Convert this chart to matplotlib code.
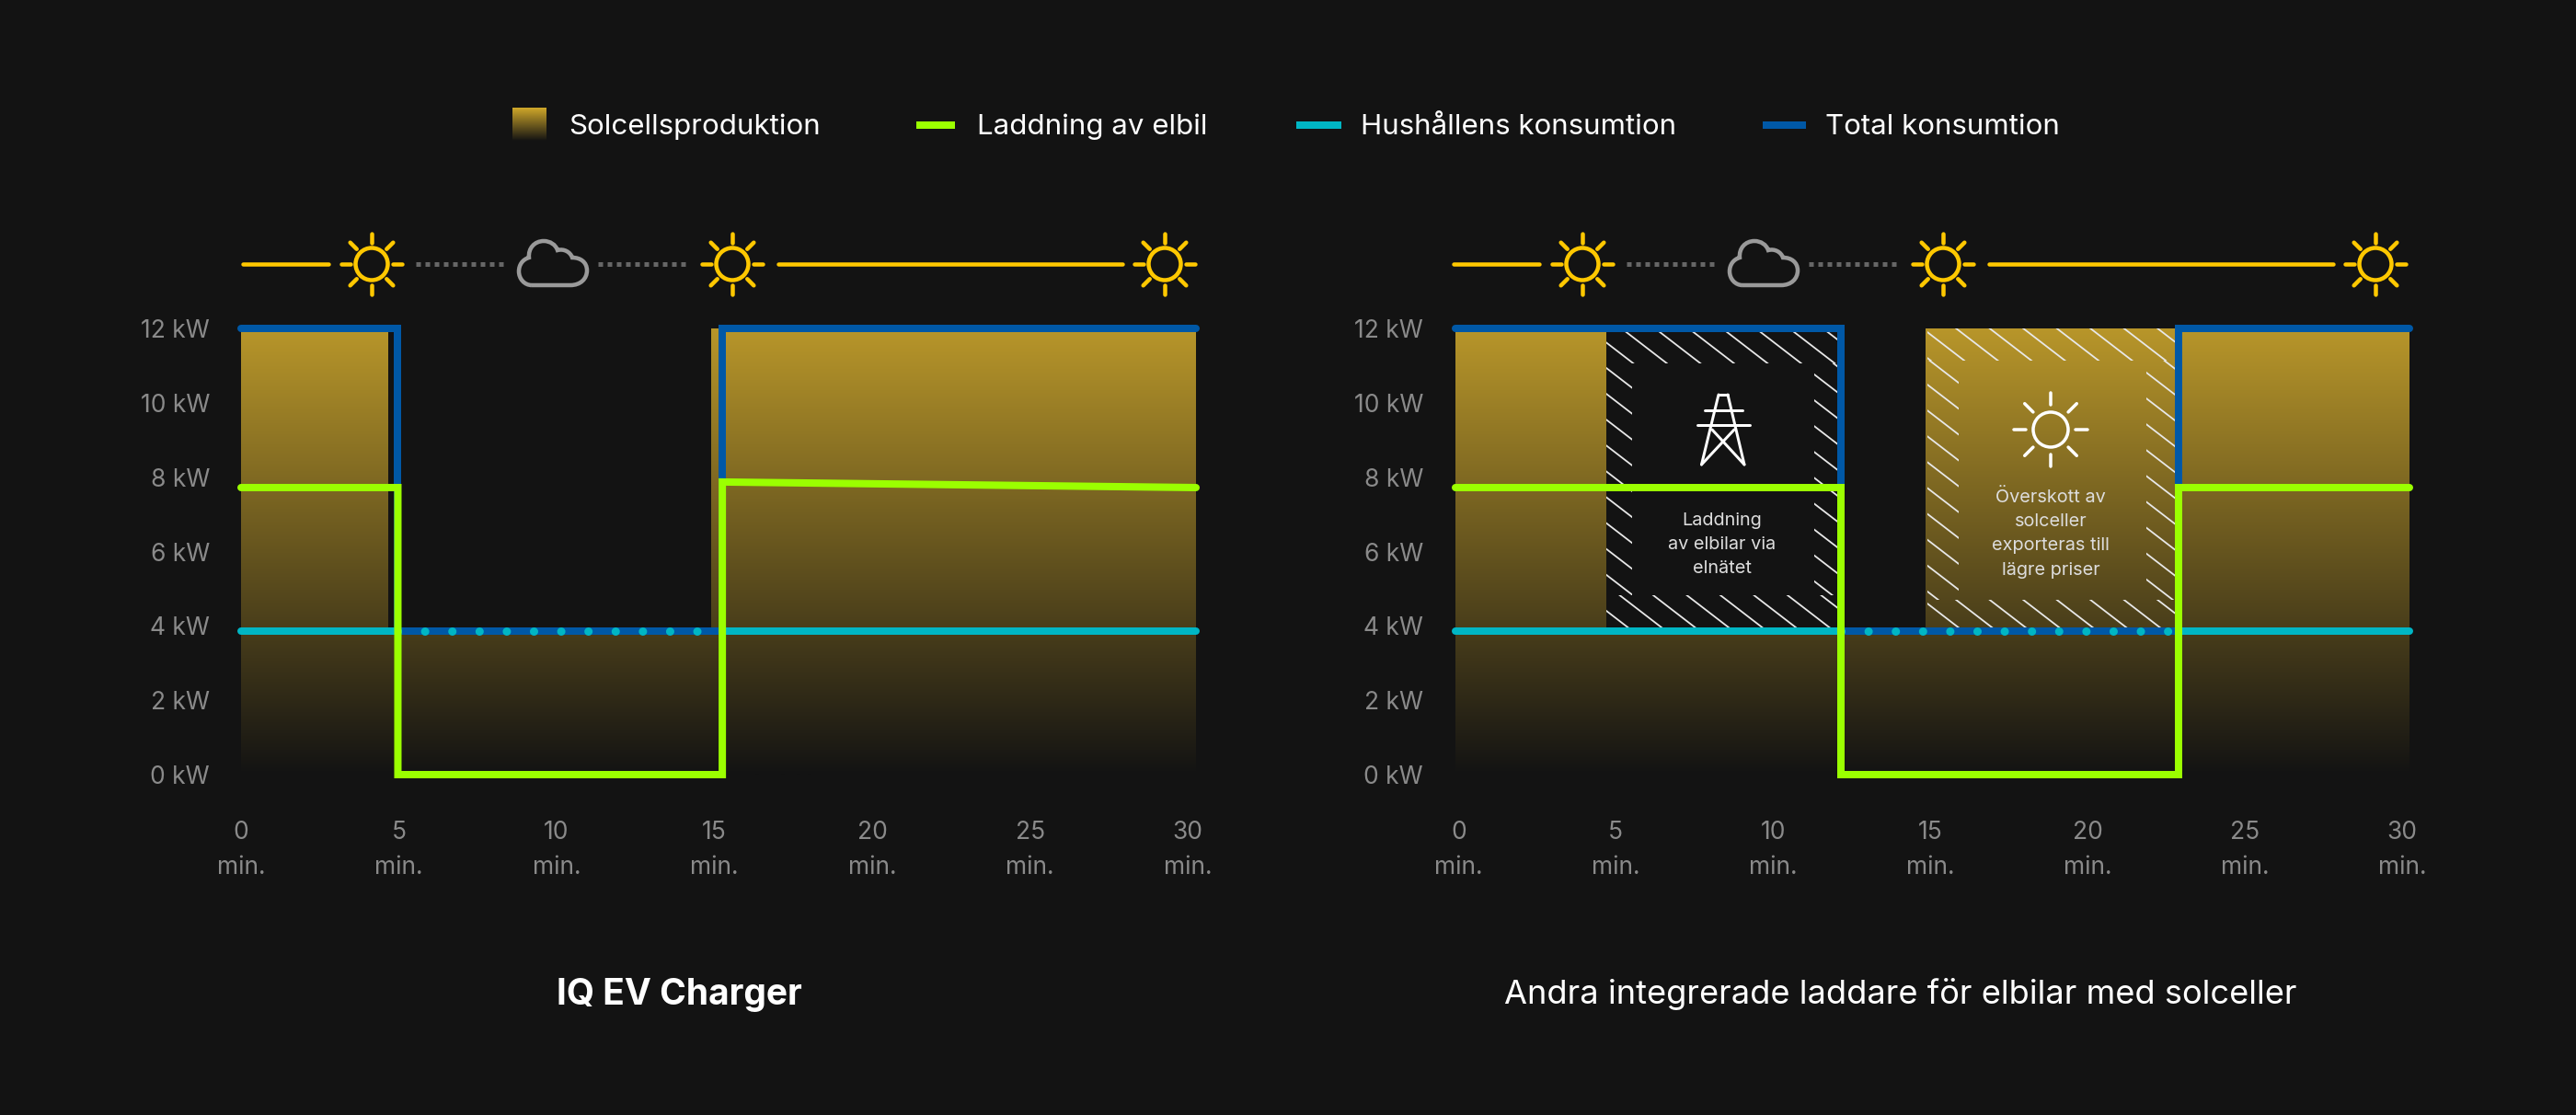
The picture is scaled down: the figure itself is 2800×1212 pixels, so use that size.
import numpy as np
import matplotlib
matplotlib.use("Agg")
import matplotlib.pyplot as plt
from matplotlib.path import Path
from matplotlib.patches import PathPatch, Rectangle, Circle
from matplotlib.colors import to_rgb

# chart data, minutes and kW
minute_ticks = [0, 5, 10, 15, 20, 25, 30]
kw_ticks = [0, 2, 4, 6, 8, 10, 12]

left_solar_x = [0, 4.66, 4.66, 14.9, 14.9, 30.26]
left_solar_y = [12, 12, 3.85, 3.85, 12, 12]
left_total_x = [0, 4.97, 4.97, 15.25, 15.25, 30.26]
left_total_y = [12, 12, 3.85, 3.85, 12, 12]
left_ev_x = [0, 4.97, 4.97, 15.25, 15.25, 30.26]
left_ev_y = [7.72, 7.72, 0, 0, 7.87, 7.72]
left_house_x = [0, 4.97, 15.25, 30.26]
left_house_y = [3.85, 3.85, 3.85, 3.85]

right_solar_x = [-0.1, 4.69, 4.69, 14.84, 14.84, 30.23]
right_solar_y = [12, 12, 3.85, 3.85, 12, 12]
right_total_x = [-0.1, 12.16, 12.16, 22.89, 22.89, 30.23]
right_total_y = [12, 12, 3.85, 3.85, 12, 12]
right_ev_x = [-0.1, 12.16, 12.16, 22.89, 22.89, 30.23]
right_ev_y = [7.72, 7.72, 0, 0, 7.72, 7.72]
right_house_x = [-0.1, 12.16, 22.89, 30.23]
right_house_y = [3.85, 3.85, 3.85, 3.85]

W, H = 2800, 1212
BG = "#131313"
GOLD = "#B8962A"
GREEN = "#9BFF00"
TEAL = "#00B6C4"
BLUE = "#0058A6"
YELLOW = "#FFC800"
GREY = "#8A8A8A"
PX = 0.72  # one pixel in points at dpi 100

plt.rcParams["font.family"] = ["Inter", "DejaVu Sans"]

fig = plt.figure(figsize=(W / 100, H / 100), dpi=100, facecolor=BG)

# full figure layer in pixel coordinates, for legend and icons
px = fig.add_axes([0, 0, 1, 1], zorder=0)
px.set_xlim(0, W)
px.set_ylim(H, 0)
px.axis("off")


def gradient(top, n=256):
    """vertical fade from top colour down to the background"""
    a = np.array(to_rgb(top))
    b = np.array(to_rgb(BG))
    t = np.linspace(0, 1, n)[:, None]
    return (a * (1 - t) + b * t)[:, None, :]


def sun(x, y, color, r=17.5, r1=23, r2=33, lw=4.5, ax=None, z=5):
    ax = ax or px
    ax.add_patch(Circle((x, y), r, fill=False, ec=color, lw=lw * PX, transform=px.transData, zorder=z, clip_on=False))
    for deg in range(0, 360, 45):
        c, s = np.cos(np.radians(deg)), np.sin(np.radians(deg))
        ax.plot([x + r1 * c, x + r2 * c], [y + r1 * s, y + r2 * s], color=color, lw=lw * PX,
                solid_capstyle="round", transform=px.transData, zorder=z, clip_on=False)


def cloud(dx):
    verts = [(578, 310), (620, 310),
             (631, 310), (638, 303), (638, 294),
             (638, 285), (631, 280), (622, 280),
             (620, 274), (613, 270), (606, 272),
             (604, 266), (598, 262), (591, 262),
             (581, 262), (574, 270), (575, 280),
             (568, 282), (564, 288), (564, 295),
             (564, 303), (570, 310), (578, 310)]
    codes = [Path.MOVETO, Path.LINETO] + [Path.CURVE4] * 21
    verts = [(x + dx, y) for x, y in verts]
    px.add_patch(PathPatch(Path(verts, codes), fill=False, ec="#9A9A9A", lw=4.5 * PX))


def weather_row(dx):
    y = 287
    for a, b in [(264, 357), (846, 1220)]:
        px.plot([a + dx, b + dx], [y, y], color=YELLOW, lw=4.5 * PX, solid_capstyle="round")
    for a, b in [(452, 551), (650, 750)]:
        px.plot([a + dx, b + dx], [y, y], color="#666666", lw=5 * PX, ls=(0, (1, 1)), dash_capstyle="butt")
    for x in [404, 796, 1266]:
        sun(x + dx, y, YELLOW)
    cloud(dx)


def hatch_band(ax, x0, y0, x1, y1, ref_x, ref_y, z=2.5):
    """diagonal white strokes clipped to one rectangle"""
    clip = Rectangle((x0, y0), x1 - x0, y1 - y0, transform=px.transData)
    slope = 0.77
    spacing = 36.5
    # x where the reference stroke crosses y0
    start = ref_x - (ref_y - y0) / slope
    start -= np.ceil((start - (x0 - (y1 - y0) / slope)) / spacing) * spacing
    x = start
    while x < x1:
        line, = ax.plot([x, x + (y1 - y0) / slope], [y0, y1], color="#E8E8E8", lw=1.8 * PX,
                        transform=px.transData, zorder=z)
        line.set_clip_path(clip)
        x += spacing


def panel(left, right, xmin, xmax, pad, solar_x, solar_y, total_x, total_y, ev_x, ev_y, house_x, house_y):
    top, bottom = 357, 842
    ax = fig.add_axes([left / W, 1 - bottom / H, (right - left) / W, (bottom - top) / H], zorder=1)
    ax.patch.set_alpha(0)
    for s in ax.spines.values():
        s.set_visible(False)

    # solar area, gradient image clipped to the production outline
    area = ax.fill_between(solar_x, solar_y, 0, color="none")
    im = ax.imshow(gradient(GOLD), extent=[xmin, xmax, 0, 12], aspect="auto", zorder=1)
    im.set_clip_path(area.get_paths()[0], ax.transData)
    ax.set_xlim(xmin, xmax)
    ax.set_ylim(0, 12)

    lw = 8 * PX
    ax.plot(total_x, total_y, color=BLUE, lw=lw, solid_capstyle="round", solid_joinstyle="miter", clip_on=False, zorder=3)
    # household line: solid, dotted while the blue line runs on top of it, solid
    ax.plot(house_x[:2], house_y[:2], color=TEAL, lw=lw, solid_capstyle="round", clip_on=False, zorder=4)
    ax.plot(house_x[1:3], house_y[1:3], color=TEAL, lw=9 * PX, ls=(0, (0.01, 29.5 / 9)), dash_capstyle="round", clip_on=False, zorder=4)
    ax.plot(house_x[2:], house_y[2:], color=TEAL, lw=lw, solid_capstyle="round", clip_on=False, zorder=4)
    ax.plot(ev_x, ev_y, color=GREEN, lw=lw, solid_capstyle="round", solid_joinstyle="miter", clip_on=False, zorder=5)

    ax.set_xticks(minute_ticks)
    ax.set_xticklabels([f"{m}\nmin." for m in minute_ticks], linespacing=1.6)
    ax.set_yticks(kw_ticks)
    ax.set_yticklabels([f"{k} kW" for k in kw_ticks])
    ax.tick_params(axis="x", length=0, pad=50 * PX, labelsize=19, labelcolor=GREY)
    ax.tick_params(axis="y", length=0, pad=pad * PX, labelsize=19, labelcolor=GREY)
    return ax


ax_left = panel(262, 1300, 0, 30.26, 34, left_solar_x, left_solar_y, left_total_x, left_total_y,
                left_ev_x, left_ev_y, left_house_x, left_house_y)
ax_right = panel(1582, 2619, -0.1, 30.23, 35, right_solar_x, right_solar_y, right_total_x, right_total_y,
                 right_ev_x, right_ev_y, right_house_x, right_house_y)

weather_row(0)
weather_row(1316)

# black box on the right chart, grid charging
hatch_band(ax_right, 1746, 357, 2001, 395, 1769, 362)
hatch_band(ax_right, 1746, 395, 1774, 647, 1746, 400)
hatch_band(ax_right, 1972, 395, 2001, 647, 1972, 407)
hatch_band(ax_right, 1746, 647, 2001, 682, 1797, 647)

# gold box, exported surplus
hatch_band(ax_right, 2095, 357, 2364, 392, 2127.5, 358)
hatch_band(ax_right, 2095, 392, 2128.6, 652, 2095, 390)
hatch_band(ax_right, 2333, 392, 2364, 652, 2333, 405)
hatch_band(ax_right, 2095, 652, 2364, 682, 2164, 653)

# pylon icon
pylon = [[(1868, 429), (1849.5, 505)], [(1878, 429), (1896, 505)], [(1868, 429), (1878, 429)],
         [(1853, 446), (1894, 446)], [(1845, 462), (1901.5, 462)],
         [(1861, 467), (1896, 505)], [(1885, 467), (1849.5, 505)]]
for (xa, ya), (xb, yb) in pylon:
    ax_right.plot([xa, xb], [ya, yb], color="white", lw=3 * PX, solid_capstyle="round",
                  transform=px.transData, zorder=6, clip_on=False)
sun(2229, 467, "white", r=19, r1=27, r2=40, lw=3.5, ax=ax_right, z=6)

note_kw = dict(transform=px.transData, ha="center", va="center", fontsize=14.3, color="#DDDDDD", zorder=6)
for text, y in zip(["Laddning", "av elbilar via", "elnätet"], [566, 592, 618]):
    ax_right.text(1872, y, text, **note_kw)
for text, y in zip(["Överskott av", "solceller", "exporteras till", "lägre priser"], [541, 567, 593, 620]):
    ax_right.text(2229, y, text, **note_kw)

# legend
px.imshow(gradient("#D0A82A"), extent=[557, 594, 153, 117], aspect="auto", zorder=2)
px.set_xlim(0, W)
px.set_ylim(H, 0)
for xa, xb, col in [(996, 1038, GREEN), (1409, 1458, TEAL), (1916, 1963, BLUE)]:
    px.plot([xa, xb], [136, 136], color=col, lw=8 * PX, solid_capstyle="butt")
for x, label in [(618, "Solcellsproduktion"), (1062, "Laddning av elbil"),
                 (1479, "Hushållens konsumtion"), (1984, "Total konsumtion")]:
    px.text(x, 138, label, color="white", fontsize=22.5, ha="left", va="center")

px.text(738, 1081, "IQ EV Charger", color="white", fontsize=28, fontweight="bold", ha="center", va="center")
px.text(2066, 1081, "Andra integrerade laddare för elbilar med solceller", color="white", fontsize=26.1,
        ha="center", va="center")

fig.savefig("out.png", dpi=100, facecolor=BG)
